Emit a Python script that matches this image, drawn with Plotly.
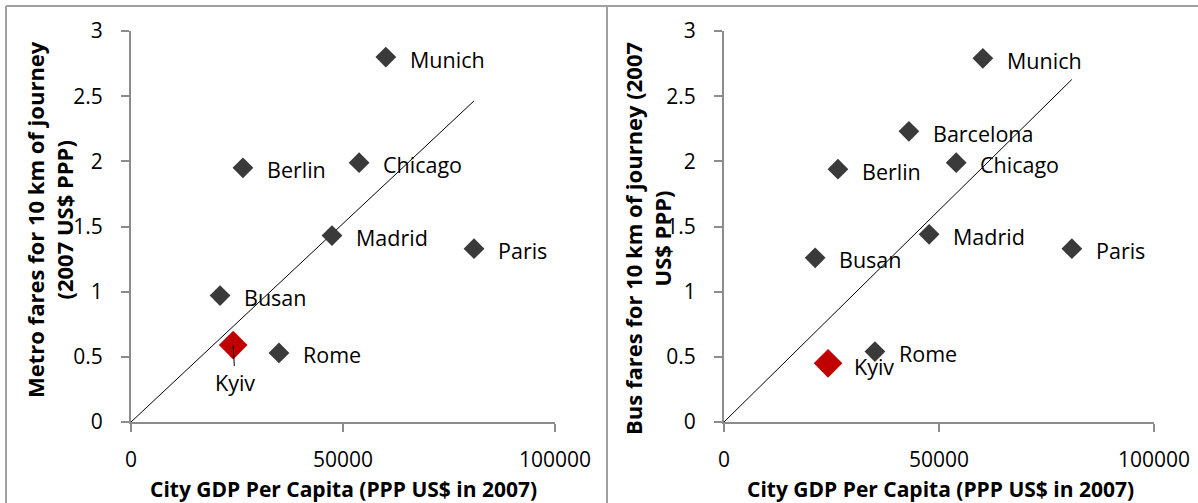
import plotly.graph_objects as go
import numpy as np

W, H = 1198, 503

# ---- data ----
metro_cities = ["Munich", "Berlin", "Chicago", "Madrid", "Paris", "Busan", "Rome"]
metro_gdp = [60100, 26400, 53800, 47400, 80900, 21000, 34900]
metro_fare = [2.80, 1.95, 1.99, 1.43, 1.33, 0.97, 0.53]
metro_kyiv_gdp = [24100]
metro_kyiv_fare = [0.59]

bus_cities = ["Munich", "Barcelona", "Berlin", "Chicago", "Madrid", "Paris", "Busan", "Rome"]
bus_gdp = [60200, 43000, 26500, 54000, 47700, 80900, 21200, 35100]
bus_fare = [2.79, 2.23, 1.94, 1.99, 1.44, 1.33, 1.26, 0.54]
bus_kyiv_gdp = [24200]
bus_kyiv_fare = [0.45]

x_ticks = [0, 50000, 100000]
y_ticks = [0, 0.5, 1, 1.5, 2, 2.5, 3]

FONT = "Open Sans"
DARK = "#3a3a3a"
RED = "#c00000"
AXIS = "#8c8c8c"

def px(v):
    return v / W

def py(v):
    return 1 - v / H

fig = go.Figure()

panels = [
    ("x", "y", metro_cities, metro_gdp, metro_fare, metro_kyiv_gdp, metro_kyiv_fare),
    ("x2", "y2", bus_cities, bus_gdp, bus_fare, bus_kyiv_gdp, bus_kyiv_fare),
]

for xa, ya, cities, gdp, fare, kg, kf in panels:
    allx = np.array(gdp + kg, dtype=float)
    ally = np.array(fare + kf, dtype=float)
    slope = (allx * ally).sum() / (allx * allx).sum()
    xl = np.array([0, allx.max()])
    fig.add_trace(go.Scatter(x=xl, y=slope * xl, mode="lines", xaxis=xa, yaxis=ya,
                             line=dict(color="black", width=1), showlegend=False, hoverinfo="skip"))
    fig.add_trace(go.Scatter(x=gdp, y=fare, mode="markers", xaxis=xa, yaxis=ya,
                             marker=dict(symbol="diamond", size=16, color=DARK),
                             showlegend=False))
    fig.add_trace(go.Scatter(x=kg, y=kf, mode="markers", xaxis=xa, yaxis=ya,
                             marker=dict(symbol="diamond", size=22, color=RED),
                             showlegend=False))
    for c, gx, gy in zip(cities, gdp, fare):
        fig.add_annotation(x=gx, y=gy, xref=xa, yref=ya, text=c, showarrow=False,
                           xanchor="left", yanchor="middle", xshift=22, yshift=-2,
                           font=dict(family=FONT, size=21.5, color="black"))

# Kyiv labels
fig.add_annotation(x=metro_kyiv_gdp[0], y=metro_kyiv_fare[0], xref="x", yref="y", text="Kyiv",
                   showarrow=True, arrowhead=0, arrowwidth=1, arrowcolor="black",
                   ax=2, ay=37, standoff=0, startstandoff=0,
                   font=dict(family=FONT, size=21.5, color="black"))
fig.add_annotation(x=bus_kyiv_gdp[0], y=bus_kyiv_fare[0], xref="x2", yref="y2", text="Kyiv",
                   showarrow=False, xanchor="left", yanchor="middle", xshift=24, yshift=-3,
                   font=dict(family=FONT, size=21.5, color="black"))

axis_common = dict(showgrid=False, zeroline=False, showline=True, linecolor=AXIS, linewidth=2,
                   ticks="outside", ticklen=8, tickwidth=2, tickcolor=AXIS, automargin=False,
                   tickfont=dict(family=FONT, size=21, color="black"))

yd = [py(422), py(31)]
fig.update_layout(
    width=W, height=H, autosize=False, margin=dict(l=0, r=0, t=0, b=0, pad=0),
    paper_bgcolor="white", plot_bgcolor="white",
    xaxis=dict(domain=[px(131), px(555)], range=[0, 100000], tickvals=x_ticks,
               ticktext=[str(v) for v in x_ticks], anchor="y", ticklabelstandoff=10, **axis_common),
    yaxis=dict(domain=yd, range=[0, 3], tickvals=y_ticks,
               ticktext=[f"{v:g}" for v in y_ticks], anchor="x", ticklabelstandoff=14, **axis_common),
    xaxis2=dict(domain=[px(724), px(1154)], range=[0, 100000], tickvals=x_ticks,
                ticktext=[str(v) for v in x_ticks], anchor="y2", ticklabelstandoff=10, **axis_common),
    yaxis2=dict(domain=yd, range=[0, 3], tickvals=y_ticks,
                ticktext=[f"{v:g}" for v in y_ticks], anchor="x2", ticklabelstandoff=14, **axis_common),
)

xt_font = dict(family=FONT, size=21, color="black")
yt_font = dict(family=FONT, size=22, color="black")
fig.add_annotation(x=px(343), y=py(489), xref="paper", yref="paper", showarrow=False,
                   text="<b>City GDP Per Capita (PPP US$ in 2007)</b>", font=xt_font,
                   xanchor="center", yanchor="middle")
fig.add_annotation(x=px(940), y=py(489), xref="paper", yref="paper", showarrow=False,
                   text="<b>City GDP Per Capita (PPP US$ in 2007)</b>", font=xt_font,
                   xanchor="center", yanchor="middle")
fig.add_annotation(x=px(49), y=py(220), xref="paper", yref="paper", showarrow=False,
                   text="<b>Metro fares for 10 km of journey<br>(2007 US$ PPP)</b>", font=yt_font,
                   textangle=-90, xanchor="center", yanchor="middle")
fig.add_annotation(x=px(647), y=py(238), xref="paper", yref="paper", showarrow=False,
                   text="<b>Bus fares for 10 km of journey (2007<br>US$ PPP)</b>", font=yt_font,
                   textangle=-90, xanchor="center", yanchor="middle")

# panel borders
border = dict(color="#a0a0a0", width=2)
fig.add_shape(type="line", xref="paper", yref="paper", x0=px(6), x1=1, y0=py(6), y1=py(6), line=border)
fig.add_shape(type="line", xref="paper", yref="paper", x0=px(6), x1=px(6), y0=0, y1=py(6), line=border)
fig.add_shape(type="line", xref="paper", yref="paper", x0=px(607), x1=px(607), y0=0, y1=py(6), line=border)

fig.write_html("out.html", config={"displayModeBar": False},
               post_script="document.body.style.margin='0';")
